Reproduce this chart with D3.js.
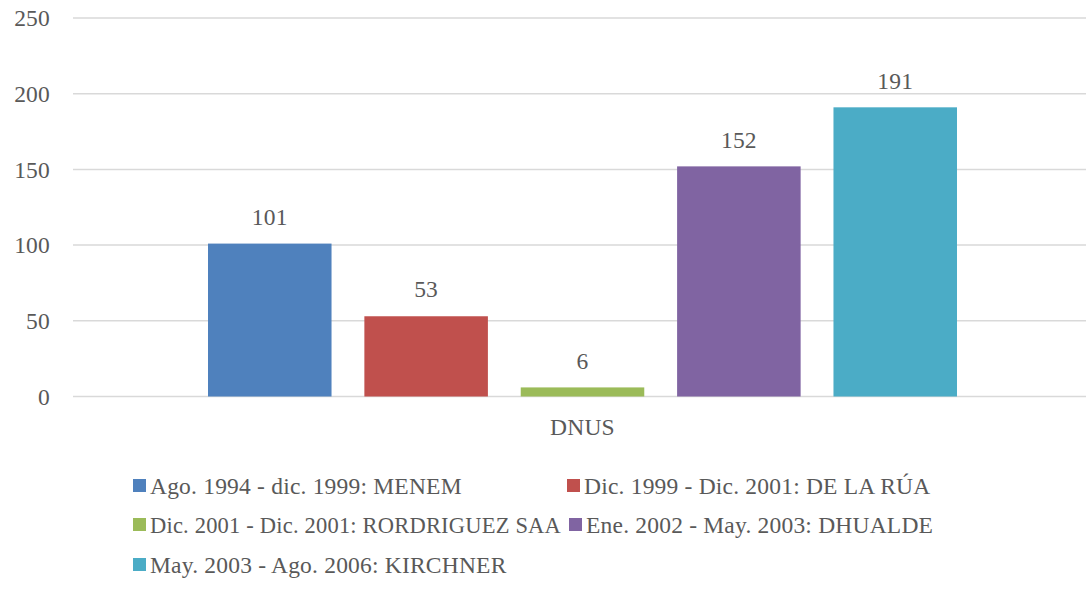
<!DOCTYPE html>
<html>
<head>
<meta charset="utf-8">
<script src="https://cdn.jsdelivr.net/npm/d3@7"></script>
<style>
  body { margin: 0; background: #fff; }
  text { font-family: "Liberation Serif", "DejaVu Serif", serif; fill: #595959; font-size: 23.5px; letter-spacing: 0.2px; }
</style>
</head>
<body>
<svg id="chart"></svg>
<script>
const category = "DNUS";
const seriesNames = [
  "Ago. 1994 - dic. 1999: MENEM",
  "Dic. 1999 - Dic. 2001: DE LA RÚA",
  "Dic. 2001 - Dic. 2001: RORDRIGUEZ SAA",
  "Ene. 2002 - May. 2003: DHUALDE",
  "May. 2003 - Ago. 2006: KIRCHNER"
];
const seriesValues = [101, 53, 6, 152, 191];
const seriesColors = ["#4F81BD", "#C0504D", "#9BBB59", "#8064A2", "#4BACC6"];
const yTicks = [0, 50, 100, 150, 200, 250];

const width = 1086, height = 595;
const svg = d3.select('#chart').attr('width', width).attr('height', height);

const x0 = 73, x1 = 1086;
const y = d3.scaleLinear().domain([0, 250]).range([396.5, 18]);

// gridlines
svg.selectAll('.grid').data(yTicks).join('line')
  .attr('x1', x0).attr('x2', x1)
  .attr('y1', d => y(d)).attr('y2', d => y(d))
  .attr('stroke', '#d9d9d9').attr('stroke-width', 1.5);

svg.selectAll('.ylab').data(yTicks).join('text')
  .attr('x', 50).attr('y', d => y(d)).attr('dy', '0.35em')
  .attr('text-anchor', 'end')
  .text(d => d);

const xCat = d3.scaleBand().domain([category]).range([x0, x1]);
const xSer = d3.scaleBand().domain(seriesNames).range([208, 957]).paddingInner(0.21);

svg.selectAll('.bar').data(seriesValues).join('rect')
  .attr('x', (d, i) => xSer(seriesNames[i]))
  .attr('width', xSer.bandwidth())
  .attr('y', d => y(d))
  .attr('height', d => y(0) - y(d))
  .attr('fill', (d, i) => seriesColors[i]);

svg.selectAll('.vlab').data(seriesValues).join('text')
  .attr('x', (d, i) => xSer(seriesNames[i]) + xSer.bandwidth() / 2)
  .attr('y', d => y(d) - 27).attr('dy', '0.35em')
  .attr('text-anchor', 'middle')
  .text(d => d);

svg.append('text')
  .attr('x', xCat(category) + xCat.bandwidth() / 2 + 3).attr('y', 427).attr('dy', '0.35em')
  .attr('text-anchor', 'middle')
  .text(category);

// legend, two columns
const legendPos = [[133, 486], [567, 486], [133, 525], [569, 525], [133, 565]];
const leg = svg.selectAll('.leg').data(seriesNames).join('g')
  .attr('transform', (d, i) => `translate(${legendPos[i][0]},${legendPos[i][1]})`);
leg.append('rect').attr('x', 0).attr('y', -7).attr('width', 13).attr('height', 13)
  .attr('fill', (d, i) => seriesColors[i]);
leg.append('text').attr('x', 17).attr('y', 0).attr('dy', '0.35em')
  .text(d => d)
  .each(function (d, i) {
    // squeeze left-column entries that would run into the right column
    if (legendPos[i][0] < 300) {
      const room = 567 - legendPos[i][0] - 17 - 6;
      if (this.getComputedTextLength() > room) {
        d3.select(this).attr('textLength', room).attr('lengthAdjust', 'spacingAndGlyphs');
      }
    }
  });
</script>
</body>
</html>
